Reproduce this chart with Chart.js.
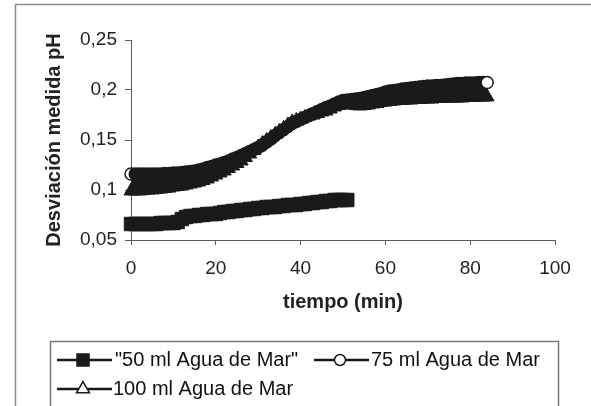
<!DOCTYPE html>
<html><head><meta charset="utf-8">
<script src="https://cdn.jsdelivr.net/npm/chart.js@4.4.0/dist/chart.umd.min.js"></script>
<style>html,body{margin:0;padding:0;background:#fff;}canvas{display:block;}</style>
</head><body>
<canvas id="c" width="591" height="406"></canvas>
<script>
// ---- data ----
const minutes = [0,1,2,3,4,5,6,7,8,9,10,11,12,13,14,15,16,17,18,19,20,21,22,23,24,25,26,27,28,29,30,31,32,33,34,35,36,37,38,39,40,41,42,43,44,45,46,47,48,49,50,51,52,53,54,55,56,57,58,59,60,61,62,63,64,65,66,67,68,69,70,71,72,73,74,75,76,77,78,79,80,81,82,83,84];
const ph50 = [0.066,0.066,0.066,0.066,0.066,0.066,0.066,0.067,0.067,0.067,0.067,0.068,0.071,0.073,0.074,0.074,0.075,0.075,0.076,0.076,0.076,0.077,0.078,0.078,0.079,0.079,0.080,0.080,0.081,0.081,0.082,0.082,0.083,0.083,0.083,0.084,0.084,0.085,0.085,0.085,0.086,0.086,0.087,0.087,0.088,0.088,0.089,0.089,0.090,0.090,0.090,0.090];
const ph75 = [0.116,0.116,0.116,0.116,0.116,0.116,0.116,0.116,0.1165,0.1165,0.117,0.117,0.1175,0.118,0.1185,0.119,0.120,0.121,0.1225,0.1235,0.125,0.126,0.1275,0.129,0.131,0.1325,0.1345,0.1365,0.1385,0.1405,0.1425,0.145,0.148,0.151,0.1545,0.1575,0.1605,0.1635,0.1665,0.1685,0.1705,0.1725,0.1745,0.1765,0.1785,0.1805,0.1825,0.184,0.186,0.188,0.1895,0.190,0.1905,0.191,0.1915,0.1925,0.1935,0.1945,0.1955,0.1965,0.198,0.199,0.1995,0.200,0.201,0.2015,0.202,0.2025,0.203,0.2035,0.204,0.204,0.2045,0.2045,0.205,0.2055,0.206,0.2065,0.2065,0.207,0.207,0.207,0.2075,0.2075,0.2075];
const ph100 = [0.099,0.099,0.099,0.0995,0.100,0.100,0.1005,0.101,0.1015,0.102,0.103,0.1035,0.104,0.105,0.106,0.107,0.108,0.1095,0.111,0.113,0.115,0.117,0.119,0.1215,0.124,0.1265,0.129,0.1325,0.136,0.1395,0.143,0.1465,0.1495,0.1525,0.1555,0.1585,0.1615,0.165,0.168,0.1695,0.171,0.1725,0.174,0.175,0.1765,0.178,0.179,0.181,0.183,0.1845,0.186,0.1855,0.185,0.1845,0.184,0.1845,0.185,0.186,0.1865,0.1875,0.188,0.1885,0.189,0.1895,0.1895,0.190,0.190,0.1905,0.1905,0.191,0.191,0.191,0.1915,0.1915,0.1915,0.192,0.192,0.192,0.192,0.1925,0.1925,0.1925,0.193,0.193,0.193];
const seriesLabels = ['"50 ml Agua de Mar"', '75 ml Agua de Mar', '100 ml Agua de Mar'];
const xTicks = [0, 20, 40, 60, 80, 100];
const xTickLabels = ['0', '20', '40', '60', '80', '100'];
const yTicks = [0.05, 0.1, 0.15, 0.2, 0.25];
const yTickLabels = ['0,05', '0,1', '0,15', '0,2', '0,25'];
const xTitle = 'tiempo (min)';
const yTitle = 'Desviación medida pH';

// ---- styles ----
const FONT = '"Liberation Sans", Arial, sans-serif';
const INK = '#1a1a1a';
const AXIS = '#5a5a5a';

function labelFor(list, labels, v) {
  const i = list.findIndex(t => Math.abs(t - v) < 1e-9);
  return i >= 0 ? labels[i] : '';
}

const framePlugin = {
  id: 'frame',
  beforeDraw(chart) {
    const ctx = chart.ctx;
    ctx.save();
    ctx.fillStyle = '#fff';
    ctx.fillRect(0, 0, chart.width, chart.height);
    ctx.strokeStyle = '#8a8a8a';
    ctx.lineWidth = 1.5;
    ctx.beginPath();
    ctx.moveTo(15.5, 406); ctx.lineTo(15.5, 4.5); ctx.lineTo(591, 4.5);
    ctx.stroke();
    ctx.restore();
  }
};

function marker(ctx, style, x, y, r, fill) {
  ctx.beginPath();
  if (style === 'rect') {
    const s = r * Math.SQRT1_2;
    ctx.rect(x - s, y - s, 2 * s, 2 * s);
  } else if (style === 'circle') {
    ctx.arc(x, y, r, 0, Math.PI * 2);
  } else {
    for (let k = 0; k < 3; k++) {
      const a = k * 2 * Math.PI / 3;
      const px = x + Math.sin(a) * r, py = y - Math.cos(a) * r;
      if (k === 0) ctx.moveTo(px, py); else ctx.lineTo(px, py);
    }
    ctx.closePath();
  }
  ctx.fillStyle = fill;
  ctx.fill();
  ctx.strokeStyle = INK;
  ctx.lineWidth = 1.5;
  ctx.stroke();
}

const legendPlugin = {
  id: 'boxLegend',
  afterDraw(chart) {
    const ctx = chart.ctx;
    ctx.save();
    ctx.strokeStyle = '#7a7a7a';
    ctx.lineWidth = 1.5;
    ctx.strokeRect(50.5, 341.5, 508, 120);
    const items = [
      {ds: 0, x: 57, y: 360, tx: 115, r: 8.5, fill: INK},
      {ds: 1, x: 314, y: 360, tx: 371, r: 5.5, fill: '#fff'},
      {ds: 2, x: 57, y: 389, tx: 113, r: 7.5, fill: '#fff'}
    ];
    items.forEach(it => {
      const ds = chart.data.datasets[it.ds];
      ctx.strokeStyle = INK;
      ctx.lineWidth = 2.5;
      ctx.beginPath(); ctx.moveTo(it.x, it.y); ctx.lineTo(it.x + 55, it.y); ctx.stroke();
      marker(ctx, ds.pointStyle, it.x + 26, it.y, it.r, it.fill);
      ctx.fillStyle = '#111';
      ctx.font = '20px ' + FONT;
      ctx.textBaseline = 'middle';
      ctx.textAlign = 'left';
      ctx.fillText(ds.label, it.tx, it.y);
    });
    ctx.restore();
  }
};

const lastIdx = minutes.length - 1;

new Chart(document.getElementById('c'), {
  type: 'line',
  data: {
    labels: minutes,
    datasets: [
      {
        label: seriesLabels[0], data: ph50,
        pointStyle: 'rect', pointRadius: 9.5, pointBorderWidth: 1,
        borderColor: INK, backgroundColor: INK, pointBackgroundColor: INK, pointBorderColor: INK,
        borderWidth: 2, fill: false, clip: false, tension: 0
      },
      {
        label: seriesLabels[1], data: ph75,
        pointStyle: 'circle', pointRadius: 6, pointBorderWidth: 1.5,
        borderColor: INK, backgroundColor: INK, pointBorderColor: INK,
        pointBackgroundColor: c => (c.dataIndex === 0 || c.dataIndex === lastIdx) ? '#fff' : INK,
        borderWidth: 2, fill: false, clip: false, tension: 0
      },
      {
        label: seriesLabels[2], data: ph100,
        pointStyle: 'triangle', pointRadius: 8, pointBorderWidth: 1,
        borderColor: INK, backgroundColor: INK, pointBackgroundColor: INK, pointBorderColor: INK,
        borderWidth: 2, fill: '-1', clip: false, tension: 0
      }
    ]
  },
  options: {
    responsive: false,
    animation: false,
    devicePixelRatio: 1,
    layout: {padding: {left: 35, right: 36, top: 40, bottom: 92}},
    plugins: {legend: {display: false}, tooltip: {enabled: false}},
    elements: {line: {borderJoinStyle: 'round'}},
    scales: {
      x: {
        type: 'linear', min: 0, max: 100,
        afterBuildTicks: s => { s.ticks = xTicks.map(v => ({value: v})); },
        afterFit: s => { s.height = 74; s.paddingLeft = 0; s.paddingRight = 0; },
        ticks: {
          callback: v => labelFor(xTicks, xTickLabels, v),
          font: {family: FONT, size: 19}, color: '#222', padding: 12, maxRotation: 0, autoSkip: false
        },
        grid: {drawOnChartArea: false, drawTicks: true, tickLength: 5, color: AXIS},
        border: {display: true, color: AXIS, width: 1},
        title: {display: true, text: xTitle, font: {family: FONT, size: 20, weight: 'bold'}, color: '#222', padding: {top: 0, bottom: 0}}
      },
      y: {
        type: 'linear', min: 0.05, max: 0.25,
        afterBuildTicks: s => { s.ticks = yTicks.map(v => ({value: v})); },
        afterFit: s => { s.width = 96; s.paddingTop = 0; s.paddingBottom = 0; },
        ticks: {
          callback: v => labelFor(yTicks, yTickLabels, v),
          font: {family: FONT, size: 19}, color: '#222', padding: 8, autoSkip: false
        },
        grid: {drawOnChartArea: false, drawTicks: true, tickLength: 6, color: AXIS},
        border: {display: true, color: AXIS, width: 1},
        title: {display: true, text: yTitle, font: {family: FONT, size: 20, weight: 'bold'}, color: '#222', padding: {top: 7, bottom: 0}}
      }
    }
  },
  plugins: [framePlugin, legendPlugin]
});
</script>
</body></html>
